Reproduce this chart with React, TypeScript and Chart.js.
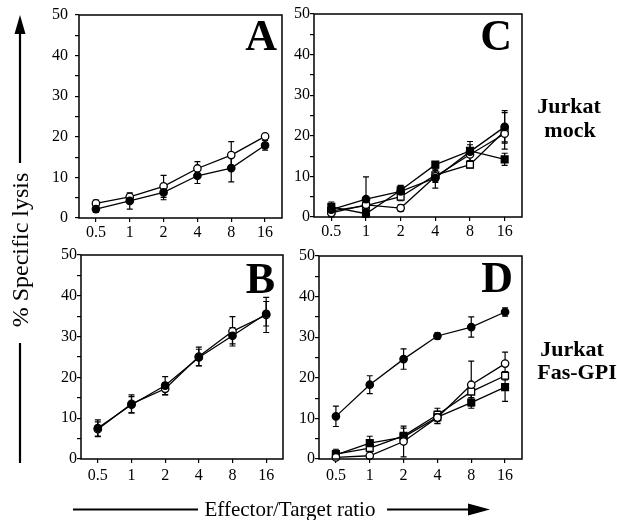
import React, { useEffect, useRef } from 'react';
import { Chart, registerables } from 'chart.js';

Chart.register(...registerables);
Chart.defaults.font.family = "'Liberation Serif', 'Times New Roman', serif";
Chart.defaults.color = '#000';

// ---- Data ----
const ratios = ['0.5', '1', '2', '4', '8', '16'];
const yTicks = [0, 10, 20, 30, 40, 50];

// Panel A (Jurkat mock)
const aOpenCircle = [3.6, 5.2, 7.8, 12.2, 15.5, 20.1];
const aOpenCircleErr = [0.8, 0.6, 2.7, 1.7, 3.3, 0.5];
const aFilledCircle = [2.2, 4.2, 6.3, 10.4, 12.3, 17.9];
const aFilledCircleErr = [0.8, 2.0, 1.8, 1.9, 3.4, 1.2];

// Panel B (Jurkat Fas-GPI)
const bOpenCircle = [7.3, 13.5, 17.2, 25.1, 31.3, 35.3];
const bOpenCircleErr = [1.8, 2.2, 1.5, 2.3, 3.6, 4.3];
const bFilledCircle = [7.6, 13.3, 18.0, 24.9, 30.2, 35.6];
const bFilledCircleErr = [2.0, 2.0, 2.2, 2.0, 2.0, 3.0];

// Panel C (Jurkat mock)
const cFilledCircle = [1.8, 4.4, 6.3, 9.6, 16.1, 22.2];
const cFilledCircleErr = [1.5, 5.5, 1.5, 2.5, 2.5, 4.0];
const cOpenCircle = [1.0, 3.0, 2.2, 10.0, 15.4, 20.5];
const cOpenCircleErr = [1.0, 1.0, 0.8, 1.5, 1.5, 2.0];
const cFilledSquare = [2.5, 0.8, 6.6, 12.9, 16.3, 14.2];
const cFilledSquareErr = [1.2, 0.5, 1.0, 0.5, 1.5, 1.5];
const cOpenSquare = [1.5, 2.8, 5.0, 10.3, 12.9, 21.2];
const cOpenSquareErr = [0.8, 1.0, 1.0, 1.5, 0.8, 4.5];

// Panel D (Jurkat Fas-GPI)
const dFilledCircle = [10.5, 18.3, 24.6, 30.3, 32.5, 36.2];
const dFilledCircleErr = [2.5, 2.2, 2.5, 0.8, 2.5, 1.0];
const dOpenCircle = [0.4, 0.8, 4.3, 10.2, 18.3, 23.5];
const dOpenCircleErr = [0.5, 0.5, 3.8, 1.5, 5.8, 2.8];
const dFilledSquare = [1.0, 3.9, 5.4, 10.3, 13.9, 17.7];
const dFilledSquareErr = [0.6, 1.7, 1.0, 1.5, 0.8, 3.5];
const dOpenSquare = [1.2, 2.7, 5.7, 10.9, 16.6, 20.5];
const dOpenSquareErr = [1.2, 1.0, 1.9, 1.6, 1.5, 1.0];

type Style = 'openCircle' | 'filledCircle' | 'openSquare' | 'filledSquare';
type Series = { values: number[]; errors: number[]; style: Style };

const panelA: Series[] = [
  { values: aFilledCircle, errors: aFilledCircleErr, style: 'filledCircle' },
  { values: aOpenCircle, errors: aOpenCircleErr, style: 'openCircle' },
];
const panelB: Series[] = [
  { values: bFilledCircle, errors: bFilledCircleErr, style: 'filledCircle' },
  { values: bOpenCircle, errors: bOpenCircleErr, style: 'openCircle' },
];
const panelC: Series[] = [
  { values: cFilledCircle, errors: cFilledCircleErr, style: 'filledCircle' },
  { values: cOpenCircle, errors: cOpenCircleErr, style: 'openCircle' },
  { values: cFilledSquare, errors: cFilledSquareErr, style: 'filledSquare' },
  { values: cOpenSquare, errors: cOpenSquareErr, style: 'openSquare' },
];
const panelD: Series[] = [
  { values: dFilledCircle, errors: dFilledCircleErr, style: 'filledCircle' },
  { values: dOpenCircle, errors: dOpenCircleErr, style: 'openCircle' },
  { values: dFilledSquare, errors: dFilledSquareErr, style: 'filledSquare' },
  { values: dOpenSquare, errors: dOpenSquareErr, style: 'openSquare' },
];

const FONT = "'Liberation Serif', 'Times New Roman', serif";

function makeDataset(s: Series) {
  const filled = s.style.startsWith('filled');
  const square = s.style.endsWith('Square');
  return {
    data: s.values,
    errors: s.errors,
    borderColor: '#000',
    borderWidth: 1.3,
    pointStyle: square ? 'rect' : 'circle',
    pointRadius: square ? 4.8 : 3.7,
    pointBackgroundColor: filled ? '#000' : '#fff',
    pointBorderColor: '#000',
    pointBorderWidth: 1.3,
    fill: false,
    tension: 0,
    clip: false,
  };
}

const errorBarPlugin = {
  id: 'errorBars',
  beforeDatasetsDraw(chart: any) {
    const ctx = chart.ctx;
    const y = chart.scales.y;
    ctx.save();
    ctx.strokeStyle = '#000';
    ctx.lineWidth = 1.2;
    chart.data.datasets.forEach((ds: any, di: number) => {
      const meta = chart.getDatasetMeta(di);
      (ds.errors || []).forEach((e: number, i: number) => {
        const p = meta.data[i];
        const v = ds.data[i];
        const top = y.getPixelForValue(v + e);
        const bot = y.getPixelForValue(Math.max(0, v - e));
        ctx.beginPath();
        ctx.moveTo(p.x, top);
        ctx.lineTo(p.x, bot);
        ctx.moveTo(p.x - 3, top);
        ctx.lineTo(p.x + 3, top);
        ctx.moveTo(p.x - 3, bot);
        ctx.lineTo(p.x + 3, bot);
        ctx.stroke();
      });
    });
    ctx.restore();
  },
};

const framePlugin = {
  id: 'frame',
  afterDraw(chart: any, _args: any, opts: any) {
    const { left, top, right, bottom } = chart.chartArea;
    const ctx = chart.ctx;
    ctx.save();
    ctx.strokeStyle = '#000';
    ctx.lineWidth = 1.5;
    ctx.strokeRect(left, top, right - left, bottom - top);
    ctx.fillStyle = '#000';
    ctx.font = `bold 44px ${FONT}`;
    ctx.textAlign = 'right';
    ctx.textBaseline = 'alphabetic';
    ctx.fillText(opts.letter, right - opts.dx, top + opts.dy);
    ctx.restore();
  },
};

type Geom = { L: number; T: number; R: number; B: number };

const YW = 45;
const XH = 34;
const PT = 20;
const PR = 14;

function Panel(props: {
  geom: Geom;
  series: Series[];
  letter: string;
  letterDx: number;
  letterDy: number;
  yPad: number;
  xPad: number;
}) {
  const ref = useRef<HTMLCanvasElement>(null);
  const { geom } = props;
  const w = geom.R - geom.L + YW + PR;
  const h = geom.B - geom.T + PT + XH;
  useEffect(() => {
    const chart = new Chart(ref.current as HTMLCanvasElement, {
      type: 'line',
      data: { labels: ratios, datasets: props.series.map(makeDataset) as any },
      options: {
        responsive: false,
        animation: false,
        devicePixelRatio: 1,
        layout: { padding: { top: PT, right: PR, left: 0, bottom: 0 } },
        plugins: {
          legend: { display: false },
          tooltip: { enabled: false },
          frame: { letter: props.letter, dx: props.letterDx, dy: props.letterDy },
        } as any,
        scales: {
          x: {
            type: 'category',
            offset: true,
            grid: {
              display: true,
              drawOnChartArea: false,
              drawTicks: true,
              tickLength: 4,
              color: '#000',
              lineWidth: 1.2,
              offset: false,
            },
            border: { display: false },
            ticks: {
              color: '#000',
              font: { size: 16, family: FONT },
              padding: props.xPad,
              maxRotation: 0,
              autoSkip: false,
            },
            afterFit: (s: any) => {
              s.height = XH;
            },
          },
          y: {
            min: 0,
            max: 50,
            grid: {
              display: true,
              drawOnChartArea: false,
              drawTicks: true,
              tickLength: 4,
              color: '#000',
              lineWidth: 1.2,
            },
            border: { display: false },
            ticks: {
              stepSize: 5,
              autoSkip: false,
              color: '#000',
              font: { size: 16, family: FONT },
              padding: props.yPad,
              callback: (v: any) => (yTicks.includes(Number(v)) ? String(v) : ''),
            },
            afterFit: (s: any) => {
              s.width = YW;
            },
          },
        } as any,
      },
      plugins: [errorBarPlugin, framePlugin],
    });
    return () => chart.destroy();
  }, []);
  return (
    <canvas
      ref={ref}
      width={w}
      height={h}
      style={{ position: 'absolute', left: geom.L - YW, top: geom.T - PT, width: w, height: h }}
    />
  );
}

export default function App() {
  return (
    <div
      style={{
        position: 'absolute',
        left: 0,
        top: 0,
        width: 617,
        height: 520,
        background: '#fff',
        overflow: 'hidden',
        fontFamily: FONT,
      }}
    >
      <Panel geom={{ L: 79, T: 15, R: 282, B: 218 }} series={panelA} letter="A" letterDx={5} letterDy={35} yPad={7} xPad={1} />
      <Panel geom={{ L: 314, T: 14, R: 522, B: 217 }} series={panelC} letter="C" letterDx={10} letterDy={36} yPad={0} xPad={1} />
      <Panel geom={{ L: 81, T: 255, R: 283, B: 459 }} series={panelB} letter="B" letterDx={8} letterDy={38} yPad={0} xPad={3} />
      <Panel geom={{ L: 319, T: 256, R: 522, B: 459 }} series={panelD} letter="D" letterDx={9} letterDy={36} yPad={0} xPad={3} />
      <svg
        width={617}
        height={520}
        style={{ position: 'absolute', left: 0, top: 0, pointerEvents: 'none' }}
      >
        <line x1={20} y1={163} x2={20} y2={30} stroke="#000" strokeWidth={2.2} />
        <polygon points="20,15 14.5,34 25.5,34" fill="#000" />
        <line x1={20} y1={343} x2={20} y2={463} stroke="#000" strokeWidth={2.2} />
        <text
          transform="translate(28,250) rotate(-90)"
          textAnchor="middle"
          fontSize={24}
          fontFamily={FONT}
          fill="#000"
        >
          % Specific lysis
        </text>
        <line x1={73} y1={509.5} x2={198} y2={509.5} stroke="#000" strokeWidth={2.2} />
        <text x={290} y={516} textAnchor="middle" fontSize={21} fontFamily={FONT} fill="#000">
          Effector/Target ratio
        </text>
        <line x1={387} y1={509.5} x2={470} y2={509.5} stroke="#000" strokeWidth={2.2} />
        <polygon points="490,509.5 468,503.5 468,515.5" fill="#000" />
        <g fontWeight="bold" fontSize={22} fontFamily={FONT} fill="#000" textAnchor="middle">
          <text x={569} y={113}>Jurkat</text>
          <text x={570} y={137}>mock</text>
          <text x={572} y={356}>Jurkat</text>
          <text x={577} y={379}>Fas-GPI</text>
        </g>
      </svg>
    </div>
  );
}
